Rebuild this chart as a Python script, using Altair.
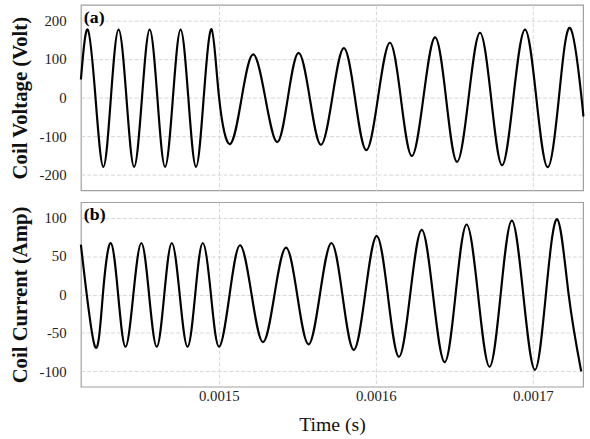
import altair as alt
import pandas as pd

# ---- Coil voltage (panel a): extrema and zero crossings ----
v_time_us = [1412.2, 1416.6, 1421.5, 1426.5, 1431.3, 1436.2, 1441.2, 1446.1, 1451.1,
             1456.0, 1460.9, 1465.8, 1470.8, 1475.7, 1480.6, 1485.5, 1490.4, 1495.4,
             1500.2, 1507.3, 1514.6, 1521.9, 1529.6, 1537.2, 1544.0, 1550.8, 1557.9,
             1565.0, 1572.3, 1579.6, 1586.7, 1593.9, 1601.4, 1608.9, 1615.9, 1622.9,
             1630.3, 1637.7, 1644.7, 1651.7, 1659.1, 1666.3, 1673.4, 1680.4, 1687.6,
             1695.0, 1702.2, 1709.4, 1716.6, 1723.8, 1731.0, 1732.0]
v_volt = [47, 176, 0, -179, 0, 176, 0, -179, 0,
          176, 0, -179, 0, 176, 0, -179, 0, 177,
          0, -120, 0, 112, 0, -115, 0, 116, 0,
          -122, 0, 128, 0, -136, 0, 142, 0, -151,
          0, 156, 0, -166, 0, 168, 0, -175, 0,
          176, 0, -180, 0, 180, 0, -43]

# ---- Coil current (panel b) ----
c_time_us = [1412.2, 1421.2, 1426.2, 1431.2, 1435.9, 1440.6, 1445.6, 1450.7, 1455.6,
             1460.5, 1465.3, 1470.1, 1475.1, 1480.1, 1485.0, 1489.8, 1495.0, 1500.2,
             1506.9, 1513.6, 1520.9, 1528.2, 1535.5, 1542.8, 1549.9, 1557.1, 1564.4,
             1571.7, 1578.7, 1585.9, 1593.2, 1600.5, 1607.6, 1614.7, 1621.9, 1629.2,
             1636.4, 1643.8, 1650.8, 1657.8, 1665.1, 1672.4, 1679.5, 1686.6, 1693.9,
             1701.3, 1708.3, 1715.5, 1722.8, 1730.8]
c_amp = [65, -68, 0, 67, 0, -68, 0, 67, 0,
         -68, 0, 67, 0, -68, 0, 67, 0, -68,
         0, 64, 0, -62, 0, 61, 0, -65, 0,
         67, 0, -72, 0, 76, 0, -81, 0, 84,
         0, -88, 0, 91, 0, -94, 0, 96, 0,
         -98, 0, 98, 0, -100]

panel_labels = ["(a)", "(b)"]

x_domain = [0.0014122, 0.001732]
x_ticks = [0.0015, 0.0016, 0.0017]
v_ticks = [-200, -100, 0, 100, 200]
c_ticks = [-100, -50, 0, 50, 100]

vdf = pd.DataFrame({"t": [t * 1e-6 for t in v_time_us], "v": v_volt})
cdf = pd.DataFrame({"t": [t * 1e-6 for t in c_time_us], "i": c_amp})

FONT = "Liberation Serif"
GRID = "#d6d6d6"

def y_axis(title, vals):
    return alt.Axis(title=title, values=vals, labelExpr="toString(datum.value)",
                    ticks=False, tickSize=0, domain=False, grid=True, gridColor=GRID,
                    gridDash=[4, 2], labelFont=FONT, labelFontSize=15, labelPadding=15,
                    labelColor="#222222", titleFont=FONT, titleFontSize=21,
                    titleFontWeight="bold", titlePadding=9, titleColor="#111111")

x_top = alt.X("t:Q", scale=alt.Scale(domain=x_domain, nice=False, zero=False),
              axis=alt.Axis(title=None, labels=False, values=x_ticks, ticks=False,
                            tickSize=0, domain=False, grid=True, gridColor=GRID,
                            gridDash=[4, 2]))
x_bot = alt.X("t:Q", scale=alt.Scale(domain=x_domain, nice=False, zero=False),
              axis=alt.Axis(title="Time (s)", values=x_ticks, format=".4f", ticks=False,
                            tickSize=0, domain=False, grid=True, gridColor=GRID,
                            gridDash=[4, 2], labelFont=FONT, labelFontSize=15,
                            labelPadding=2, labelColor="#222222", titleFont=FONT,
                            titleFontSize=20, titleFontWeight="normal", titlePadding=11,
                            titleColor="#111111"))

line_v = alt.Chart(vdf).mark_line(color="black", strokeWidth=2.2, interpolate="natural").encode(
    x=x_top,
    y=alt.Y("v:Q", scale=alt.Scale(domain=[-240, 240], nice=False),
            axis=y_axis("Coil Voltage (Volt)", v_ticks)),
)
label_a = alt.Chart(pd.DataFrame({"lab": [panel_labels[0]]})).mark_text(
    font=FONT, fontSize=18, fontWeight="bold", align="left", baseline="alphabetic",
    color="black").encode(text="lab:N", x=alt.value(3), y=alt.value(18))

line_c = alt.Chart(cdf).mark_line(color="black", strokeWidth=2.2, interpolate="natural").encode(
    x=x_bot,
    y=alt.Y("i:Q", scale=alt.Scale(domain=[-120, 120], nice=False),
            axis=y_axis("Coil Current (Amp)", c_ticks)),
)
label_b = alt.Chart(pd.DataFrame({"lab": [panel_labels[1]]})).mark_text(
    font=FONT, fontSize=18, fontWeight="bold", align="left", baseline="alphabetic",
    color="black").encode(text="lab:N", x=alt.value(3), y=alt.value(18.5))

top = alt.layer(line_v, label_a).properties(width=509, height=188)
bottom = alt.layer(line_c, label_b).properties(width=509, height=187)

chart = alt.vconcat(top, bottom, spacing=10).properties(
    padding={"left": 8, "top": 1, "right": 1, "bottom": 0},
    background="white",
).configure_view(stroke="#a0a0a0", strokeWidth=1.2)

chart.save("out.html", embed_options={"renderer": "svg", "actions": False})
